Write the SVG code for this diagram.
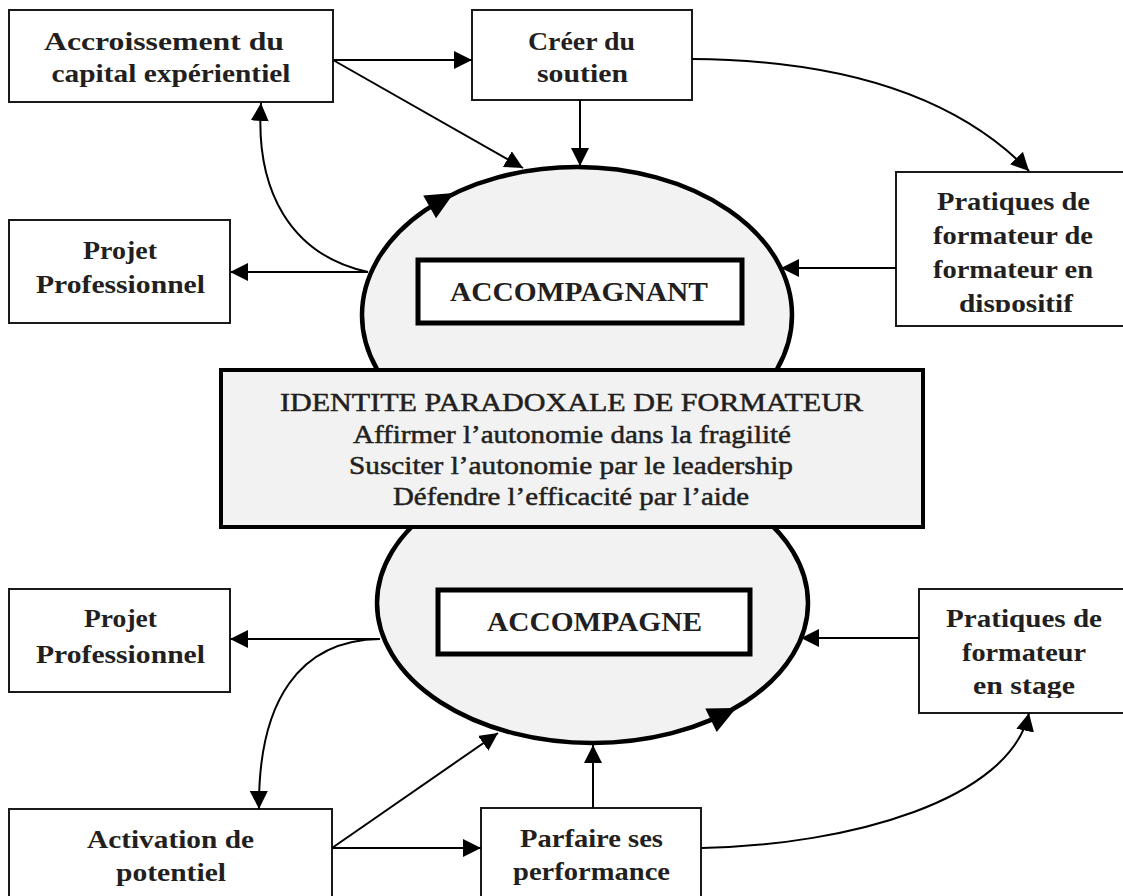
<svg xmlns="http://www.w3.org/2000/svg" width="1123" height="896" viewBox="0 0 1123 896">
<style>
.box{fill:#fff;stroke:#1a1a1a;stroke-width:2}
.ell{fill:#f2f2f2;stroke:#000;stroke-width:4.5}
.lbl{font-family:"Liberation Serif","Times New Roman",serif;font-weight:bold;font-size:26px;fill:#231f20;text-anchor:middle}
.mid{font-family:"Liberation Serif","Times New Roman",serif;font-size:26px;fill:#231f20;stroke:#231f20;stroke-width:0.5;text-anchor:middle}
.big{font-family:"Liberation Serif","Times New Roman",serif;font-weight:bold;font-size:28px;fill:#231f20;text-anchor:middle}
.con{fill:none;stroke:#000;stroke-width:2}
</style>
<defs>
<marker id="ah" markerUnits="userSpaceOnUse" markerWidth="18" markerHeight="18" refX="18" refY="9" orient="auto">
<path d="M0,0 L18,9 L0,18 Z" fill="#000"/>
</marker>
<clipPath id="clipDisp"><rect x="896" y="290" width="240" height="22"/></clipPath>
<clipPath id="clipStage"><rect x="919" y="670" width="220" height="28"/></clipPath>
</defs>

<g id="ellipse-accompagnant">
<ellipse class="ell" cx="577" cy="315" rx="215" ry="148"/>
</g>
<g id="ellipse-accompagne">
<ellipse class="ell" cx="592.5" cy="603" rx="215.5" ry="140"/>
</g>

<g id="identite">
<rect x="221" y="370" width="702" height="157" fill="#f2f2f2" stroke="#000" stroke-width="4"/>
<text class="mid" x="571.5" y="411" textLength="583" lengthAdjust="spacingAndGlyphs">IDENTITE PARADOXALE DE FORMATEUR</text>
<text class="mid" x="572" y="443" textLength="438" lengthAdjust="spacingAndGlyphs">Affirmer l’autonomie dans la fragilité</text>
<text class="mid" x="571" y="474" textLength="444" lengthAdjust="spacingAndGlyphs">Susciter l’autonomie par le leadership</text>
<text class="mid" x="571" y="505" textLength="356" lengthAdjust="spacingAndGlyphs">Défendre l’efficacité par l’aide</text>
</g>

<g id="accompagnant">
<rect x="418" y="260" width="324" height="63" fill="#fff" stroke="#000" stroke-width="5"/>
<text class="big" x="579" y="301" textLength="258" lengthAdjust="spacingAndGlyphs">ACCOMPAGNANT</text>
</g>
<g id="accompagne">
<rect x="438" y="590" width="312" height="64" fill="#fff" stroke="#000" stroke-width="5"/>
<text class="big" x="594.5" y="631" textLength="215" lengthAdjust="spacingAndGlyphs">ACCOMPAGNE</text>
</g>

<g id="accroissement">
<rect class="box" x="9" y="10" width="324" height="92"/>
<text class="lbl" x="164" y="50" textLength="240" lengthAdjust="spacingAndGlyphs">Accroissement du</text>
<text class="lbl" x="171" y="82" textLength="239" lengthAdjust="spacingAndGlyphs">capital expérientiel</text>
</g>

<g id="creer">
<rect class="box" x="472" y="10" width="220" height="90"/>
<text class="lbl" x="581.5" y="50" textLength="107" lengthAdjust="spacingAndGlyphs">Créer du</text>
<text class="lbl" x="582.5" y="82" textLength="91" lengthAdjust="spacingAndGlyphs">soutien</text>
</g>

<g id="pratiques-dispositif">
<rect class="box" x="896" y="172" width="240" height="154"/>
<text class="lbl" x="1013.5" y="210" textLength="153" lengthAdjust="spacingAndGlyphs">Pratiques de</text>
<text class="lbl" x="1013" y="244" textLength="160" lengthAdjust="spacingAndGlyphs">formateur de</text>
<text class="lbl" x="1013" y="278" textLength="160" lengthAdjust="spacingAndGlyphs">formateur en</text>
<text class="lbl" x="1016" y="312" textLength="114" lengthAdjust="spacingAndGlyphs" clip-path="url(#clipDisp)">dispositif</text>
</g>

<g id="projet-haut">
<rect class="box" x="9" y="220" width="221" height="103"/>
<text class="lbl" x="120" y="259" textLength="74" lengthAdjust="spacingAndGlyphs">Projet</text>
<text class="lbl" x="120.5" y="293" textLength="169" lengthAdjust="spacingAndGlyphs">Professionnel</text>
</g>

<g id="projet-bas">
<rect class="box" x="9" y="589" width="221" height="103"/>
<text class="lbl" x="120.5" y="627" textLength="73" lengthAdjust="spacingAndGlyphs">Projet</text>
<text class="lbl" x="120.5" y="663" textLength="169" lengthAdjust="spacingAndGlyphs">Professionnel</text>
</g>

<g id="pratiques-stage">
<rect class="box" x="919" y="589" width="220" height="124"/>
<text class="lbl" x="1024" y="627" textLength="156" lengthAdjust="spacingAndGlyphs">Pratiques de</text>
<text class="lbl" x="1024" y="661" textLength="124" lengthAdjust="spacingAndGlyphs">formateur</text>
<text class="lbl" x="1024" y="694" textLength="102" lengthAdjust="spacingAndGlyphs" clip-path="url(#clipStage)">en stage</text>
</g>

<g id="activation">
<rect class="box" x="9" y="809" width="323" height="100"/>
<text class="lbl" x="170.5" y="848" textLength="167" lengthAdjust="spacingAndGlyphs">Activation de</text>
<text class="lbl" x="171" y="881" textLength="110" lengthAdjust="spacingAndGlyphs">potentiel</text>
</g>

<g id="parfaire">
<rect class="box" x="481" y="808" width="220" height="100"/>
<text class="lbl" x="591.5" y="847" textLength="143" lengthAdjust="spacingAndGlyphs">Parfaire ses</text>
<text class="lbl" x="591.5" y="880" textLength="157" lengthAdjust="spacingAndGlyphs">performance</text>
</g>

<g id="connectors">
<path class="con" d="M333,60 L472,60" marker-end="url(#ah)"/>
<path class="con" d="M333,60 L523,168" marker-end="url(#ah)"/>
<path class="con" d="M580,100 L580,166" marker-end="url(#ah)"/>
<path class="con" d="M692,59 C850,60 960,100 1029,171" marker-end="url(#ah)"/>
<path class="con" d="M896,268 L781,268" marker-end="url(#ah)"/>
<path class="con" d="M368,272 L230,272" marker-end="url(#ah)"/>
<path class="con" d="M368,272 C290,255 255,190 261,103" marker-end="url(#ah)"/>
<path class="con" d="M380,639 L230,639" marker-end="url(#ah)"/>
<path class="con" d="M380,639 C300,640 258,700 259,809" marker-end="url(#ah)"/>
<path class="con" d="M332,848 L481,848" marker-end="url(#ah)"/>
<path class="con" d="M332,848 L498,733" marker-end="url(#ah)"/>
<path class="con" d="M593,808 L593,745" marker-end="url(#ah)"/>
<path class="con" d="M702,848 C850,845 1010,800 1029,713" marker-end="url(#ah)"/>
<path class="con" d="M919,638 L801,638" marker-end="url(#ah)"/>
<polygon points="453.9,193.1 436.0,218.2 423.2,195.6" fill="#000"/>
<polygon points="736.2,708 716.7,732 705.3,708.6" fill="#000"/>
</g>
</svg>
